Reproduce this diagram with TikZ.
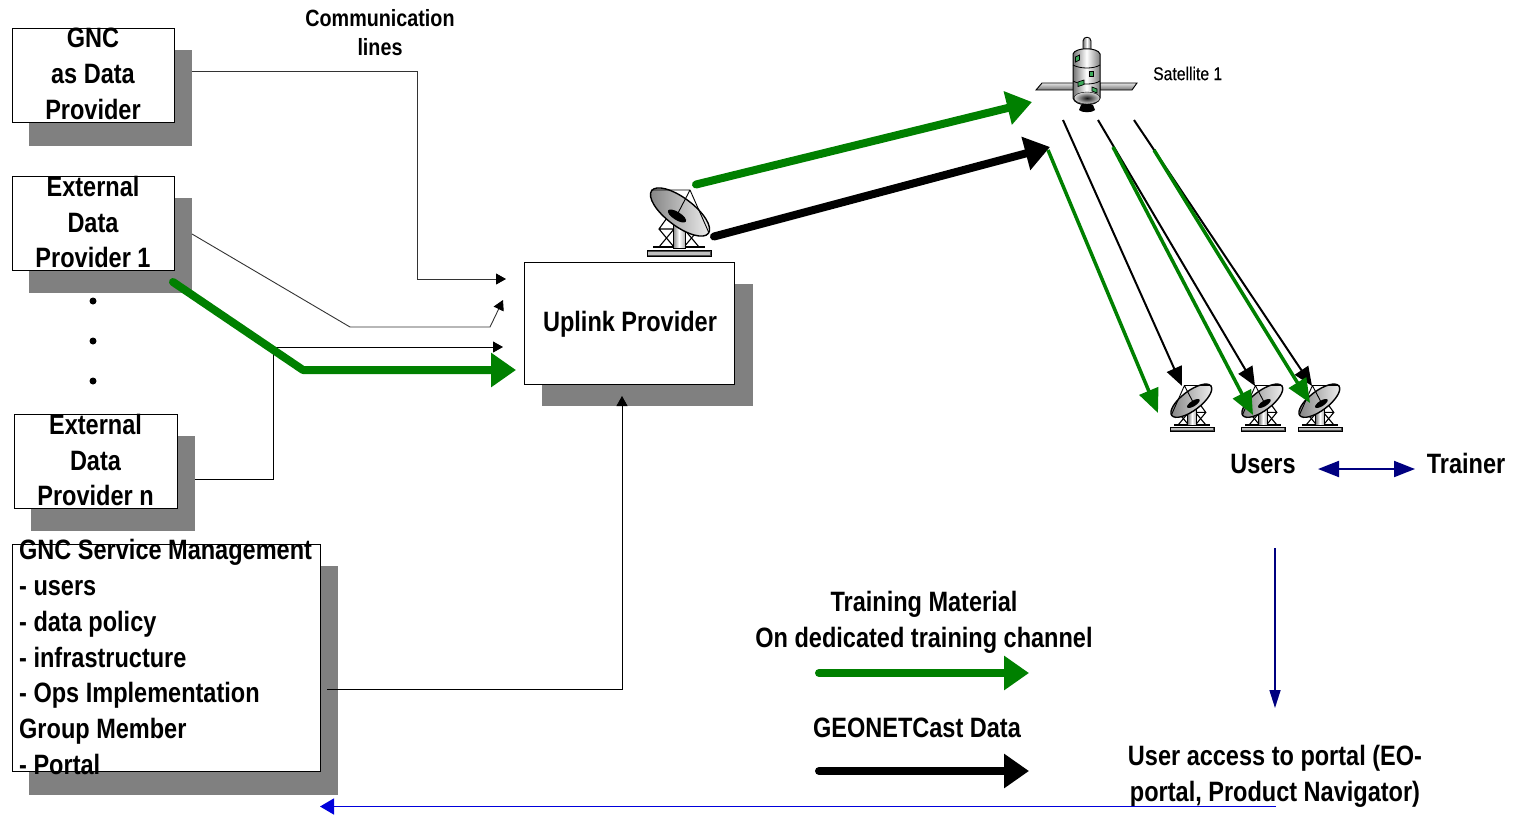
\documentclass[tikz,border=0pt]{standalone}
\usepackage{fontspec}
\setmainfont[FakeStretch=0.84]{Liberation Sans}
\newfontfamily\satfont[FakeStretch=0.85,FakeBold=0.3]{Liberation Sans}
\usetikzlibrary{arrows.meta,calc}
\definecolor{gnavy}{RGB}{0,0,128}
\definecolor{gblue}{RGB}{0,0,220}
\definecolor{ggreen}{RGB}{0,128,0}
\definecolor{gshadow}{RGB}{128,128,128}
\definecolor{patch}{RGB}{60,170,90}
\tikzset{
 shadowbox/.style={fill=gshadow,draw=none,inner sep=0,anchor=north west},
 mainbox/.style={fill=white,draw=black,line width=1pt,inner sep=0,anchor=north west},
 lab/.style={font=\fontsize{28}{35.8}\selectfont\bfseries,align=center,inner sep=0,text depth=0pt},
 smalllab/.style={font=\fontsize{23.5}{29}\selectfont\bfseries,align=center,inner sep=0},
 thinline/.style={line width=.9pt,draw=black,-{Triangle[length=10pt,width=11pt]}},
 greyline/.style={line width=.9pt,draw=black!80,-{Triangle[length=10pt,width=11pt,color=black]}},
 wideg/.style={line width=8pt,draw=ggreen,line cap=round,line join=round,-{Triangle[length=25pt,width=33pt]}},
 wideb/.style={line width=8pt,draw=black,line cap=round,line join=round,-{Triangle[length=25pt,width=33pt]}},
 beamg/.style={line width=3.5pt,draw=ggreen,-{Triangle[length=24pt,width=20pt]}},
 beamb/.style={line width=2pt,draw=black,-{Triangle[length=19pt,width=16pt]}},
 dotnode/.style={circle,fill=black,inner sep=0,minimum size=7pt},
 dishpic/.pic={
  \fill[black!70,draw=black,line width=.8pt] (-32,-3) rectangle (32,3);
  \fill[black!25] (-31,-1) rectangle (31,2);
  \draw[line width=1.4pt] (-26,-6) -- (26,-6);
  \draw[line width=1.1pt] (-20,-6) -- (-5,-24) (-5,-6) -- (-20,-24) -- (-7,-42) (-20,-24) -- (-5,-24) (20,-6) -- (5,-24) (5,-6) -- (20,-24) -- (8,-38) (5,-24) -- (20,-24);
  \shade[left color=black!50,right color=black!30,middle color=white,draw=black,line width=.8pt] (-6,-40) rectangle (6,-5);
  \shade[left color=black!50,right color=black!5,draw=black,line width=1.4pt,rotate around={-37:(1,-41)}] (1,-41) circle[x radius=35.5,y radius=14];
  \fill[black,rotate around={-32:(-2,-37)}] (-2,-37) circle[x radius=10.5,y radius=4];
  \draw[line width=.9pt] (-28,-63) -- (11,-63) -- (30,-20) (11,-63) -- (-2,-38);
 }
}
\begin{document}
\begin{tikzpicture}[x=1pt,y=-1pt]
\useasboundingbox (0,0) rectangle (1516,815);
\fill[white] (0,0) rectangle (1516,815);

% shadows
\node[shadowbox,minimum width=163.5pt,minimum height=96pt] (s1) at (28.5,50) {};
\node[shadowbox,minimum width=163.5pt,minimum height=95pt] (s2) at (28.5,198) {};
\node[shadowbox,minimum width=164pt,minimum height=95pt] (s3) at (30.5,436) {};
\node[shadowbox,minimum width=309.5pt,minimum height=228.5pt] (s4) at (28.5,566) {};
\node[shadowbox,minimum width=211.5pt,minimum height=122.5pt] (s5) at (541.5,283.5) {};
% boxes
\node[mainbox,minimum width=162pt,minimum height=94pt] (b1) at (11.5,27.5) {};
\node[mainbox,minimum width=162pt,minimum height=94pt] (b2) at (11.5,175.5) {};
\node[mainbox,minimum width=163pt,minimum height=94pt] (b3) at (13.5,413.5) {};
\node[mainbox,minimum width=308pt,minimum height=227pt] (b4) at (11.5,543.5) {};
\node[mainbox,minimum width=210pt,minimum height=122pt] (b5) at (523.5,261.5) {};

\node[lab] (t1) at (93,74) {GNC\\as Data\\Provider};
\node[lab] (t2) at (93,222) {External\\Data\\Provider 1};
\node[lab] (t3) at (95.5,460) {External\\Data\\Provider n};
\node[lab,align=left,anchor=west] (t4) at (19,657) {GNC Service Management\\- users\\- data policy\\- infrastructure\\- Ops Implementation\\Group Member\\- Portal};
\node[lab] (t5) at (630,321.5) {Uplink Provider};
\node[smalllab] (t6) at (380,33) {Communication\\lines};
\node[inner sep=0,font=\fontsize{18.5}{22}\satfont,anchor=west] (t7) at (1153,73.5) {Satellite 1};
\node[lab] (t8) at (1263,464) {Users};
\node[lab] (t9) at (1466,463) {Trainer};
\node[lab] (t10) at (924,619) {Training Material\\On dedicated training channel};
\node[lab] (t11) at (917,728) {GEONETCast Data};
\node[lab] (t12) at (1275,773) {User access to portal (EO-\\portal, Product Navigator)};

\node[dotnode] (d1) at (93,301) {};
\node[dotnode] (d2) at (93,341) {};
\node[dotnode] (d3) at (93,381) {};

% dishes
\pic at (679,253) {dishpic};
\pic[xscale=-.69,yscale=.69] at (1192,429) {dishpic};
\pic[xscale=-.69,yscale=.69] at (1263,429) {dishpic};
\pic[xscale=-.69,yscale=.69] at (1320,429) {dishpic};

% satellite
\shade[top color=black!10,bottom color=black!55,draw=black,line width=.9pt] (1036,90) -- (1042,83) -- (1074,83) -- (1074,90) -- cycle;
\shade[top color=black!10,bottom color=black!55,draw=black,line width=.9pt] (1100,83) -- (1137,83) -- (1132,90) -- (1100,90) -- cycle;
\fill[black] (1081,105) -- (1093,105) -- (1095,110) .. controls (1092,113) and (1082,113) .. (1079,110) -- cycle;
\shade[left color=black!55,right color=black!55,middle color=white,draw=black,line width=.9pt] (1083,52) -- (1083,41) .. controls (1083,36) and (1091,36) .. (1091,41) -- (1091,52) -- cycle;
\shade[left color=black!55,right color=black!50,middle color=white,draw=black,line width=1pt] (1073,54) .. controls (1075,47) and (1098,47) .. (1100,54) -- (1100,98) .. controls (1098,107) and (1075,107) .. (1073,98) -- cycle;
\draw[line width=.8pt] (1073,65) .. controls (1080,69) and (1094,69) .. (1100,65) (1073,81) .. controls (1080,85) and (1094,85) .. (1100,81);
\shade[inner color=black!90,outer color=black!15,draw=black] (1087,98) circle[x radius=13,y radius=6];
\fill[patch,draw=black,line width=.7pt] (1075.5,57) -- (1079.5,55) -- (1079.5,60) -- (1075.5,62) -- cycle;
\fill[patch,draw=black,line width=.7pt] (1089,71.5) rectangle (1093,76);
\fill[patch,draw=black,line width=.7pt] (1078,82) -- (1084,80) -- (1084,84.5) -- (1078,86.5) -- cycle;
\fill[patch,draw=black,line width=.7pt] (1092,87) -- (1097,89) -- (1097,93) -- (1092,91) -- cycle;

% coordinates
\coordinate (c1a) at (192,71);
\coordinate (c1b) at (506,279);
\coordinate (c2a) at (192,234);
\coordinate (c2b) at (503,300);
\coordinate (c3a) at (195,479);
\coordinate (c3b) at (503,347);
\coordinate (c4a) at (173,282);
\coordinate (c4b) at (516,370);
\coordinate (c5a) at (327,689);
\coordinate (c5b) at (622,396);

% connectors
\draw[greyline] (c1a) -- (417,71) -- (417,279) -- (c1b);
\draw[greyline] (c2a) -- (350,327) -- (490,327) -- (c2b);
\draw[thinline] (c3a) -- (273,479) -- (273,347) -- (c3b);
\draw[thinline] (c5a) -- (622,689) -- (c5b);
\draw[wideg] (c4a) -- (303,370) -- (c4b);

\coordinate (u1) at (696,184.5);
\coordinate (u2) at (1032,102);
\coordinate (u3) at (714,236.5);
\coordinate (u4) at (1050,147);
\draw[wideg] (u1) -- (u2);
\draw[wideb] (u3) -- (u4);

\coordinate (k1) at (1063,120);
\coordinate (k2) at (1098,120);
\coordinate (k3) at (1134,120);
\coordinate (p1) at (1182,386);
\coordinate (p2) at (1255,386);
\coordinate (p3) at (1312,386);
\draw[beamb] (k1) -- (p1);
\draw[beamb] (k2) -- (p2);
\draw[beamb] (k3) -- (p3);
\draw[beamg] (1048,150) -- (1158,413);
\draw[beamg] (1113,147) -- (1253,415);
\draw[beamg] (1154,150) -- (1310,403);

\draw[line width=2pt,draw=gnavy,{Triangle[length=21pt,width=16pt]}-{Triangle[length=21pt,width=16pt]}] (1318,469) -- (1415,469);
\draw[line width=1.6pt,draw=gnavy,-{Triangle[length=18pt,width=11pt]}] (1275,548) -- (1275,708);
\draw[line width=1.6pt,draw=gblue,-{Triangle[length=14pt,width=16pt]}] (1276,806.5) -- (320,806.5);

\coordinate (l1) at (819,673);
\coordinate (l2) at (1029,673);
\coordinate (l3) at (819,771);
\coordinate (l4) at (1029,771);
\draw[wideg] (l1) -- (l2);
\draw[wideb] (l3) -- (l4);
\end{tikzpicture}
\end{document}
